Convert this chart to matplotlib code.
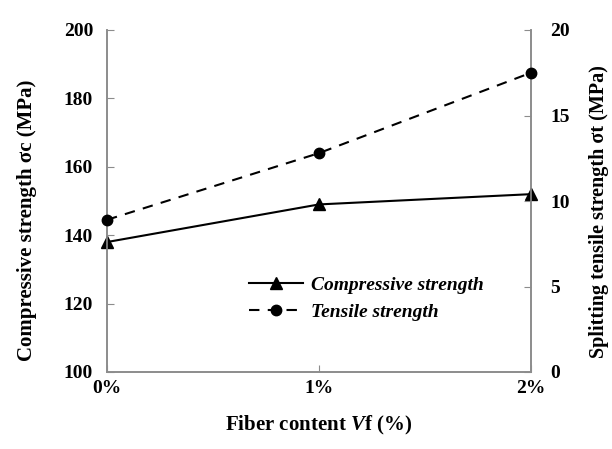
import matplotlib.pyplot as plt

plt.rcParams['font.family'] = ['Liberation Serif', 'DejaVu Serif']
plt.rcParams['mathtext.fontset'] = 'custom'
plt.rcParams['mathtext.rm'] = 'Liberation Serif:bold'
plt.rcParams['mathtext.bfit'] = 'Liberation Serif:italic:bold'
plt.rcParams['mathtext.it'] = 'Liberation Serif:italic:bold'

# data
fiber = ["0%", "1%", "2%"]
compressive = [138, 149, 152]
tensile = [8.9, 12.8, 17.5]

fig = plt.figure(figsize=(6.12, 4.49), dpi=100)
ax = fig.add_axes([107 / 612, 1 - 372 / 449, (531 - 107) / 612, (372 - 30) / 449])
ax2 = ax.twinx()

x = list(range(len(fiber)))
l1, = ax.plot(x, compressive, color='black', lw=1.5, marker='^', ms=8.5,
              label='Compressive strength', clip_on=False, zorder=5)
l2, = ax2.plot(x, tensile, color='black', lw=1.5, ls=(0, (5, 4)), marker='o', ms=7.5,
               label='Tensile strength', clip_on=False, zorder=5)

ax.set_xlim(0, 2)
ax.set_ylim(100, 200)
ax2.set_ylim(0, 20)
ax.set_xticks(x)
ax.set_xticklabels(fiber)
ax.set_yticks(range(100, 201, 20))
ax2.set_yticks(range(0, 21, 5))

gray = '#8c8c8c'
for a in (ax, ax2):
    a.spines['top'].set_visible(False)
    for s in a.spines.values():
        s.set_color(gray)
        s.set_linewidth(1.2)
    a.tick_params(direction='in', length=5, color=gray, labelsize=14)
    for lab in a.get_xticklabels() + a.get_yticklabels():
        lab.set_fontweight('bold')
ax.tick_params(axis='x', pad=6)
ax.tick_params(axis='y', pad=10)
ax2.tick_params(axis='y', pad=14)

ax.set_xlabel('Fiber content $\\mathit{V}$f (%)', fontsize=15, fontweight='bold')
ax.set_ylabel('Compressive strength σc (MPa)', fontsize=15, fontweight='bold')
ax2.set_ylabel('Splitting tensile strength σt (MPa)', fontsize=14.5, fontweight='bold')
ax.xaxis.set_label_coords(0.5, (372 - 425) / 342)
ax.xaxis.label.set_va('center')
ax.yaxis.set_label_coords((27 - 107) / 424, (372 - 220) / 342)
ax.yaxis.label.set_va('center')
ax2.yaxis.set_label_coords((599 - 107) / 424, (372 - 212) / 342)
ax2.yaxis.label.set_va('center')

ax.legend([l1, l2], ['Compressive strength', 'Tensile strength'], loc='upper left',
          bbox_to_anchor=(0.335, 0.28), frameon=False, borderpad=0, borderaxespad=0,
          prop={'style': 'italic', 'weight': 'bold', 'size': 14},
          handlelength=2.8, handletextpad=0.4, labelspacing=0.5)

fig.savefig('out.png', dpi=100)
